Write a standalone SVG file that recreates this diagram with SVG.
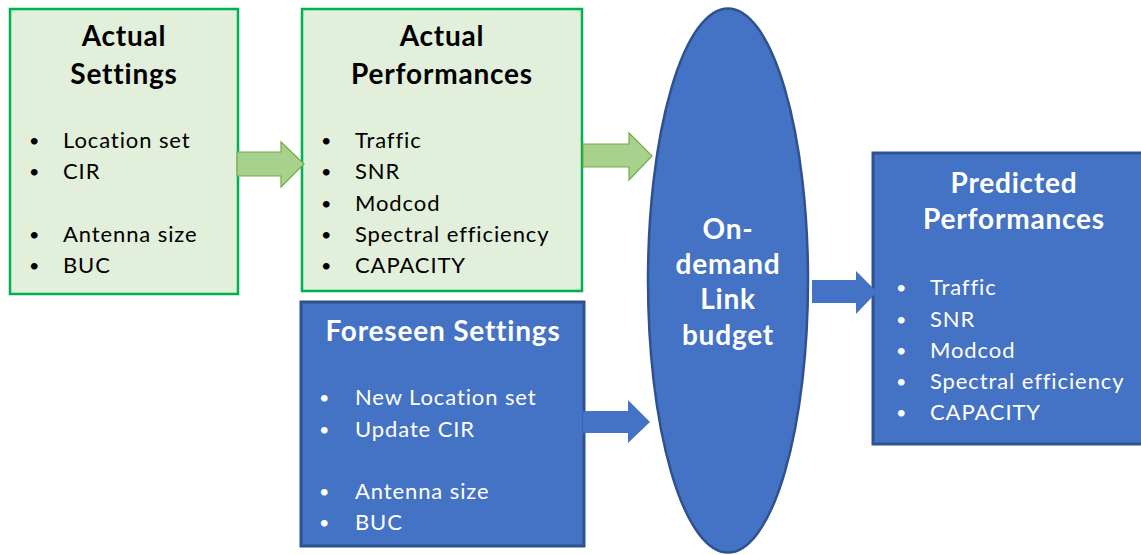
<svg xmlns="http://www.w3.org/2000/svg" width="1141" height="555" viewBox="0 0 1141 555">
<style>
.gbox{fill:#E2EFDA;stroke:#00B050;stroke-width:2.5}
.bbox{fill:#4472C4;stroke:#2F528F;stroke-width:3}
.garrow{fill:#A9D18E;stroke:#70AD47;stroke-width:1.2}
.barrow{fill:#4472C4}
.t{font-family:Lato,"Open Sans",sans-serif;font-size:22px;letter-spacing:0.9px}
.b{font-family:Lato,"Open Sans",sans-serif;font-size:18px}
.h{font-family:Lato,"Open Sans",sans-serif;font-size:28px;font-weight:bold;text-anchor:middle;letter-spacing:0.8px}
.dk{fill:#000}
.wh{fill:#fff}
</style>
<g id="actual-settings">
<rect class="gbox" x="10" y="9" width="228" height="285"/>
<text class="h dk" x="124" y="46">Actual</text>
<text class="h dk" x="124" y="84">Settings</text>
<g class="b dk">
<text x="29" y="147">•</text><text x="29" y="178">•</text><text x="29" y="241">•</text><text x="29" y="272">•</text>
</g>
<g class="t dk">
<text x="63" y="148">Location set</text>
<text x="63" y="179">CIR</text>
<text x="63" y="242">Antenna size</text>
<text x="63" y="273">BUC</text>
</g>
</g>
<g id="actual-performances">
<rect class="gbox" x="302" y="9" width="280" height="282"/>
<text class="h dk" x="442" y="46">Actual</text>
<text class="h dk" x="442" y="84">Performances</text>
<g class="b dk">
<text x="321" y="147">•</text><text x="321" y="178">•</text><text x="321" y="210">•</text><text x="321" y="241">•</text><text x="321" y="272">•</text>
</g>
<g class="t dk">
<text x="355" y="148">Traffic</text>
<text x="355" y="179">SNR</text>
<text x="355" y="211">Modcod</text>
<text x="355" y="242">Spectral efficiency</text>
<text x="355" y="273">CAPACITY</text>
</g>
</g>
<g id="foreseen-settings">
<rect class="bbox" x="301" y="302" width="283" height="244"/>
<text class="h wh" x="443" y="341">Foreseen Settings</text>
<g class="b wh">
<text x="319" y="404">•</text><text x="319" y="436">•</text><text x="319" y="498">•</text><text x="319" y="529">•</text>
</g>
<g class="t wh">
<text x="355" y="405">New Location set</text>
<text x="355" y="437">Update CIR</text>
<text x="355" y="499">Antenna size</text>
<text x="355" y="530">BUC</text>
</g>
</g>
<g id="link-budget">
<ellipse cx="728" cy="280.5" rx="80" ry="272" fill="#4472C4" stroke="#2F528F" stroke-width="2.5"/>
<text class="h wh" x="728" y="239">On-</text>
<text class="h wh" x="728" y="274">demand</text>
<text class="h wh" x="728" y="309">Link</text>
<text class="h wh" x="728" y="345">budget</text>
</g>
<g id="predicted-performances">
<rect class="bbox" x="873" y="153" width="290" height="291"/>
<text class="h wh" x="1014" y="193">Predicted</text>
<text class="h wh" x="1014" y="229">Performances</text>
<g class="b wh">
<text x="896" y="294">•</text><text x="896" y="326">•</text><text x="896" y="357">•</text><text x="896" y="388">•</text><text x="896" y="419">•</text>
</g>
<g class="t wh">
<text x="930" y="295">Traffic</text>
<text x="930" y="327">SNR</text>
<text x="930" y="358">Modcod</text>
<text x="930" y="389">Spectral efficiency</text>
<text x="930" y="420">CAPACITY</text>
</g>
</g>
<g id="connectors">
<polygon class="garrow" points="237,152 281,152 281,142 304,164 281,187 281,176 237,176"/>
<polygon class="garrow" points="583,144 629,144 629,133 652,156 629,180 629,167 583,167"/>
<polygon class="barrow" points="583,411 628,411 628,400 650,422 628,443 628,433 583,433"/>
<polygon class="barrow" points="812,280 856,280 856,271 877,292 856,314 856,303 812,303"/>
</g>
</svg>
